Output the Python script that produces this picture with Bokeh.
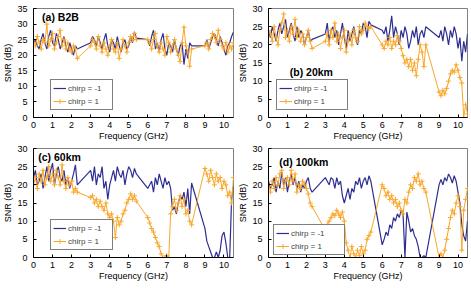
import numpy as np
from bokeh.plotting import figure
from bokeh.layouts import column, row
from bokeh.models import Label, Legend, LegendItem, Range1d
from bokeh.embed import file_html
from bokeh.resources import INLINE

# ---------------- data ----------------
# measured frequency bands (GHz); gaps between bands are bridged by the line
band_a = np.round(np.arange(0.0, 2.31, 0.1), 2)   # 24 pts
band_b = np.round(np.arange(3.0, 5.41, 0.1), 2)   # 25 pts
band_c = np.round(np.arange(6.0, 8.31, 0.1), 2)   # 24 pts
band_d = np.round(np.arange(9.0, 10.51, 0.1), 2)  # 16 pts
freq = np.concatenate([band_a, band_b, band_c, band_d])

# (a) B2B
b2b_neg = ([24, 25, 23, 22, 25, 27, 24, 22, 26, 28, 24, 23, 27, 25, 22, 24, 26, 23, 21, 24, 22, 20, 23, 22]
           + [24, 26, 25, 23, 26, 24, 22, 25, 27, 23, 21, 25, 24, 22, 26, 23, 21, 24, 25, 22, 23, 26, 24, 27.5, 25.5]
           + [25, 23, 26, 28, 22, 24, 21, 25, 27, 22, 20, 24, 23, 21, 25, 22, 20, 23, 24, 17, 22, 19, 24, 23]
           + [23, 25, 22, 24, 26, 27, 25, 23, 26, 24, 22, 20, 23, 24, 26, 27.5])
b2b_pos = ([25, 23, 26, 24, 22, 25, 24, 30, 23, 25, 27, 22, 24, 26, 28, 23, 25, 22, 24, 22, 21, 23, 22, 19]
           + [23, 25, 24, 22, 26, 23, 21, 24, 22, 20, 23, 25, 22, 21, 24, 19, 22, 25, 23, 21, 24, 26, 25, 27, 25]
           + [25, 24, 22, 25, 27, 23, 21, 24, 22, 20, 26, 24, 21, 23, 25, 22, 20, 18, 24, 29, 23, 21, 16.5, 22]
           + [23, 24, 22, 25, 27, 26, 24, 28, 25, 23, 22, 24, 21, 23, 22, 24])

# (b) 20 km
km20_neg = ([24, 22, 25, 23, 21, 24, 26, 23, 25, 27, 22, 24, 26, 23, 21, 25, 22, 24, 23, 20, 22, 24, 21, 21.5]
            + [23, 26, 21, 24, 25, 22, 24, 20, 23, 26, 22, 19, 24, 21, 23, 25, 22, 20, 24, 23, 26, 25, 22, 26.5, 25.5]
            + [24, 23, 25, 21, 24, 28, 22, 25, 23, 20, 24, 22, 25, 23, 19, 21, 24, 22, 25, 20, 23, 24, 22, 25]
            + [22, 24, 21, 25, 23, 20, 24, 22, 25, 23, 19, 22, 15.5, 21, 18, 23])
km20_pos = ([24, 23, 21, 25, 22, 20, 24, 26, 28.5, 22, 24, 21, 25, 23, 27, 22, 24, 21, 23, 20, 22, 24, 21, 19]
            + [21, 23, 20, 24, 22, 26, 21, 23, 19, 22, 24, 18, 21, 23, 20, 24, 22, 21, 25, 23, 24, 26, 25, 24.5, 25]
            + [20, 19, 21, 20, 22, 19, 21, 20, 22.5, 21, 19, 17, 15, 16, 14, 16, 13, 15, 11.5, 16, 20, 18, 14, 20]
            + [7, 6, 7.5, 6.5, 8, 10, 12, 13, 12.5, 14.5, 13, 11, 9.5, 0, 3.5, 1])

# (c) 60 km
km60_neg = ([22, 24, 20, 21, 23, 19, 22, 25, 21, 24, 26, 20, 23, 25, 22, 21, 24, 20, 22, 19, 21, 23, 25.5, 20]
            + [24, 21, 25, 20, 23, 22, 25, 19, 21, 16, 20, 22, 24, 21, 25, 23, 22, 24, 20, 23, 25, 24, 22, 24.5, 23]
            + [19, 20, 21, 18, 22, 20, 23, 21, 19, 22, 20, 21, 19, 13, 14, 12, 15, 17, 16, 18, 14, 19, 12, 20.5]
            + [8, 4.5, 3, 1.5, 0, 0, 1.5, 0, 2, 6, 7, 4, 0, 0, 16, 19.5])
km60_pos = ([20, 22, 19, 23, 21, 24, 20, 22, 25, 21, 23, 20, 24, 22, 20, 25.5, 21, 19, 22, 20, 21, 18, 19, 18]
            + [16.5, 17, 15, 16, 14, 15.5, 14, 13, 15, 12, 11, 12, 10, 5.5, 11, 9, 10, 12, 13, 15, 16, 17.5, 16, 17, 15.5]
            + [11, 9.5, 8, 7, 5.5, 4, 3, 1, 0, 0, 0.5, 0, 12, 14, 16, 13, 15, 17, 14, 16, 12, 13, 10, 9]
            + [24.5, 23, 21, 24, 22, 20, 23, 21, 22, 19, 21, 20, 17, 18, 15, 22])

# (d) 100 km
km100_neg = ([21, 19, 20, 22, 18, 21, 19, 23.5, 20, 22, 18, 21, 23, 20, 22, 19, 21, 18, 20, 19, 21, 22, 19, 18]
             + [22, 21, 20, 22, 21.5, 19, 22, 20, 21, 17, 15, 17, 19, 16, 19, 18, 21, 20, 22, 19, 21, 22, 20, 22.5, 21]
             + [3.5, 5, 7, 6, 9, 8, 11, 10, 12, 11, 13, 12, 0, 12.5, 10, 7, 8, 6, 5, 3, 0, 0, 0.5, 0]
             + [20, 21.5, 20, 22, 21, 23, 22, 20.5, 22.5, 21, 18, 15, 9, 6, 4.5, 10])
km100_pos = ([20, 18, 21, 19, 22, 20, 23, 24, 19, 21, 22, 20, 24, 21, 23, 18, 20, 19, 21, 20, 19, 17.5, 15, 14]
             + [7.5, 9, 10, 11, 12, 11.5, 13, 12, 11, 12.5, 10, 4, 2, 0, 3, 1, 0, 2, 0.5, 3, 1, 2, 5, 6, 7]
             + [20, 19, 17, 18, 16, 17, 15, 16, 14, 15, 13, 12, 16, 15, 18, 20, 19, 22, 21, 23, 20, 21, 19, 18]
             + [0, 1, 0, 2, 5, 8, 11, 13, 12, 15, 17, 14, 2, 13, 16, 19])

x_ticks = list(range(0, 11))
legend_labels = ["chirp = -1", "chirp = 1"]

# ---------------- style ----------------
FONT = "Liberation Sans"
BLUE = "#2E2E92"
ORANGE = "#F9A72B"


def make_panel(w, h, ymax, borders, neg, pos, title, title_xy, legend_xy, label_w):
    left, right, top, bottom = borders
    p = figure(width=w, height=h, x_range=Range1d(0, 10.5), y_range=Range1d(0, ymax),
               output_backend="svg", toolbar_location=None,
               min_border_left=left, min_border_right=right,
               min_border_top=top, min_border_bottom=bottom,
               x_axis_label="Frequency (GHz)", y_axis_label="SNR (dB)")
    p.grid.visible = False
    p.outline_line_color = "#808080"
    p.outline_line_width = 1
    p.background_fill_color = "white"
    p.border_fill_color = "white"

    p.xaxis.ticker = x_ticks
    p.yaxis.ticker = list(range(0, ymax + 1, 5))
    for ax in (p.xaxis[0], p.yaxis[0]):
        ax.major_tick_in = 3
        ax.major_tick_out = 0
        ax.minor_tick_line_color = None
        ax.axis_line_color = "black"
        ax.major_tick_line_color = "black"
        ax.major_label_text_font = FONT
        ax.major_label_text_font_size = "9px"
        ax.major_label_text_color = "black"
        ax.axis_label_text_font = FONT
        ax.axis_label_text_font_size = "9px"
        ax.axis_label_text_font_style = "normal"
        ax.axis_label_text_color = "black"
    p.yaxis.major_label_standoff = 6
    p.yaxis.axis_label_standoff = 1
    p.xaxis.major_label_standoff = 4
    p.xaxis.axis_label_standoff = 0

    rn = p.line(freq, neg, line_color=BLUE, line_width=1.2)
    rp = p.line(freq, pos, line_color=ORANGE, line_width=1)
    rm = p.scatter(freq, pos, marker="cross", size=5, line_color=ORANGE, line_width=1)

    legend = Legend(items=[LegendItem(label=legend_labels[0], renderers=[rn]),
                           LegendItem(label=legend_labels[1], renderers=[rp, rm])],
                    location=legend_xy)
    legend.label_text_font = FONT
    legend.label_text_font_size = "8px"
    legend.glyph_width = 13
    legend.glyph_height = 12
    legend.label_height = 12
    legend.label_width = label_w
    legend.label_standoff = 2
    legend.padding = 2
    legend.spacing = 1
    legend.margin = 0
    legend.border_line_color = "black"
    legend.border_line_width = 1
    legend.background_fill_color = "white"
    legend.background_fill_alpha = 1
    p.add_layout(legend, "center")

    p.add_layout(Label(x=title_xy[0], y=title_xy[1], text=title, text_font=FONT,
                       text_font_size="10.5px", text_font_style="bold",
                       text_baseline="middle", text_align="left", text_color="black"))
    return p


pa = make_panel(235, 144, 35, (29, 2, 8, 27), b2b_neg, b2b_pos, "(a) B2B", (0.45, 32.4), (17, 7), 42)
pb = make_panel(236, 144, 30, (31, 4, 7, 27), km20_neg, km20_pos, "(b) 20km", (1.12, 12.5), (8, 7), 51)
pc = make_panel(235, 144, 30, (30, 2, 3, 31), km60_neg, km60_pos, "(c) 60km", (0.25, 27.6), (17, 7), 42)
pd = make_panel(236, 144, 30, (31, 4, 4, 28), km100_neg, km100_pos, "(d) 100km", (0.57, 26.3), (5, 2), 51)

layout = column(row(pa, pb, spacing=0), row(pc, pd, spacing=0), spacing=0)

open("out.html", "w").write(file_html(layout, INLINE))
